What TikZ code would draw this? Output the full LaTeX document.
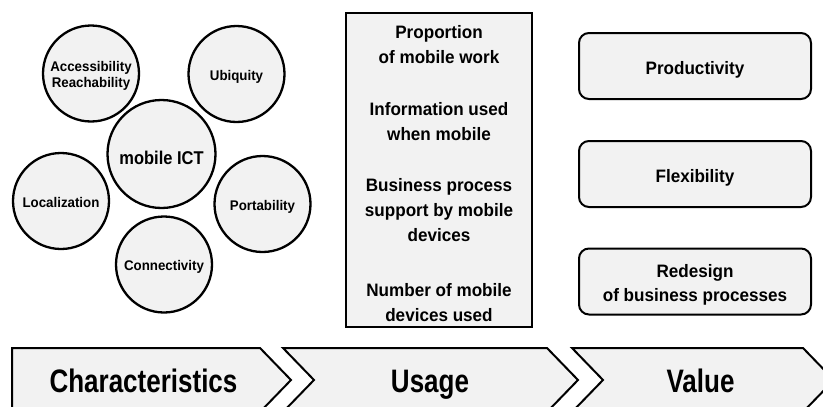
\documentclass[tikz,border=0pt]{standalone}
\usepackage{fontspec}
\setmainfont{Liberation Sans}
\newfontfamily\fN{Liberation Sans}[FakeStretch=0.95]
\newfontfamily\fM{Liberation Sans}[FakeStretch=0.89]
\newfontfamily\fC{Liberation Sans}[FakeStretch=0.8]
\newcommand\mlines[1]{\begin{tabular}[t]{@{}c@{}}#1\end{tabular}}
\definecolor{panelc}{RGB}{242,242,242}
\begin{document}
\begin{tikzpicture}[x=1pt,y=-1pt,
  ring/.style={circle, draw, line width=2.3pt, fill=panelc, inner sep=0pt,
    minimum size=96pt, font=\fN\bfseries\fontsize{14}{16.6}\selectfont,
    text height=12pt, text depth=0pt},
  hub/.style={ring, minimum size=108pt, font=\fM\bfseries\fontsize{18.5}{22}\selectfont,
    text height=20pt, text depth=0pt},
  vbox/.style={draw, line width=2pt, fill=panelc, rounded corners=10pt,
    minimum width=232pt, minimum height=66pt, inner sep=0pt,
    font=\fN\bfseries\fontsize{18}{24}\selectfont, text height=16pt, text depth=0pt},
  panel/.style={draw, line width=2pt, fill=panelc, inner sep=0pt},
  utext/.style={font=\fN\bfseries\fontsize{18}{25}\selectfont, anchor=base, inner sep=0pt},
  chev/.style={draw, line width=2pt, fill=panelc, line join=miter},
  ctext/.style={font=\fC\bfseries\fontsize{32.5}{36}\selectfont, anchor=base, inner sep=0pt}]
\clip (0,0) rectangle (823,407);
\fill[white] (0,0) rectangle (823,407);

% characteristics circles
\node[ring, text height=11.6pt, text depth=16.2pt] (acc) at (91,73.5) {\mlines{Accessibility\\Reachability}};
\node[ring] (ubi) at (236.5,74) {Ubiquity};
\node[hub] (ict) at (161.5,154) {mobile ICT};
\node[ring] (loc) at (61,201) {Localization};
\node[ring] (por) at (262.5,204) {Portability};
\node[ring] (con) at (164,264.5) {Connectivity};

% usage panel
\node[panel, minimum width=186pt, minimum height=314pt] (usage) at (439,170) {};
\node[utext] (u1) at (439,38) {\mlines{Proportion\\of mobile work}};
\node[utext] (u2) at (439,115) {\mlines{Information used\\when mobile}};
\node[utext] (u3) at (439,191) {\mlines{Business process\\support by mobile\\devices}};
\node[utext] (u4) at (439,296) {\mlines{Number of mobile\\devices used}};

% value boxes
\node[vbox] (prod) at (695,66) {Productivity};
\node[vbox] (flex) at (695,174) {Flexibility};
\node[vbox, text height=16.8pt, text depth=25.8pt] (redes) at (695,281.5) {\mlines{Redesign\\of business processes}};

% chevrons
\draw[chev] (12,348) -- (260,348) -- (291,380) -- (260,412) -- (12,412) -- cycle;
\draw[chev] (283,348) -- (547,348) -- (578,380) -- (547,412) -- (283,412) -- (314,380) -- cycle;
\draw[chev] (572,348) -- (803,348) -- (834,380) -- (803,412) -- (572,412) -- (603,380) -- cycle;
\node[ctext] (c1) at (143.5,392) {Characteristics};
\node[ctext] (c2) at (430,392) {Usage};
\node[ctext] (c3) at (700.5,392) {Value};
\end{tikzpicture}
\end{document}
